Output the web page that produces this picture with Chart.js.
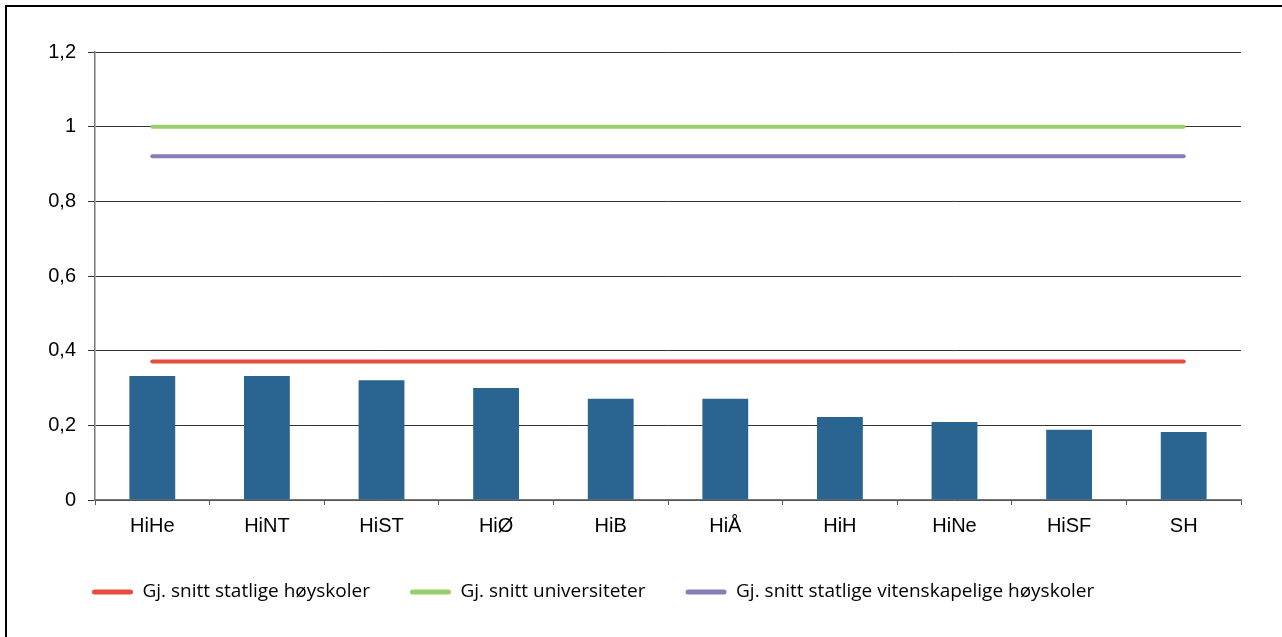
<!DOCTYPE html>
<html>
<head>
<meta charset="utf-8">
<script src="https://cdn.jsdelivr.net/npm/chart.js@4"></script>
<style>
  html, body { margin: 0; padding: 0; background: #fff; overflow: hidden; }
  #wrap { position: relative; width: 1282px; height: 637px; }
  #frame { position: absolute; left: 5px; top: 5px; width: 1400px; height: 800px;
           border-left: 2px solid #000; border-top: 2px solid #000; pointer-events: none; }
  canvas { position: absolute; left: 0; top: 0; }
</style>
</head>
<body>
<div id="wrap">
  <canvas id="c" width="1282" height="637"></canvas>
  <div id="frame"></div>
</div>
<script>
// ---- data ----
const categories = ['HiHe', 'HiNT', 'HiST', 'HiØ', 'HiB', 'HiÅ', 'HiH', 'HiNe', 'HiSF', 'SH'];
const barValues = [0.332, 0.332, 0.321, 0.300, 0.271, 0.271, 0.222, 0.209, 0.188, 0.182];
const avgStatligeHoyskoler = [0.371, 0.371, 0.371, 0.371, 0.371, 0.371, 0.371, 0.371, 0.371, 0.371];
const avgUniversiteter = [1.0, 1.0, 1.0, 1.0, 1.0, 1.0, 1.0, 1.0, 1.0, 1.0];
const avgVitenskapelige = [0.921, 0.921, 0.921, 0.921, 0.921, 0.921, 0.921, 0.921, 0.921, 0.921];
const seriesNames = ['Gj. snitt statlige høyskoler', 'Gj. snitt universiteter', 'Gj. snitt statlige vitenskapelige høyskoler'];
const yTickLabels = ['0', '0,2', '0,4', '0,6', '0,8', '1', '1,2'];

const axisFont = { family: "'Liberation Sans', Arial, sans-serif", size: 20 };

function lineDs(label, data, color) {
  return {
    type: 'line', label, data, order: 0,
    borderColor: color, backgroundColor: color, borderWidth: 4,
    borderCapStyle: 'round', pointRadius: 0, pointHoverRadius: 0, tension: 0, fill: false
  };
}

// shift the legend so it starts under the y axis, as in the original
const legendShift = {
  id: 'legendShift',
  afterLayout(chart) {
    if (chart.legend) { chart.legend.left = 52; }
  }
};

new Chart(document.getElementById('c'), {
  type: 'bar',
  data: {
    labels: categories,
    datasets: [
      { label: 'bars', data: barValues, backgroundColor: '#2A6491', order: 1,
        barPercentage: 0.8, categoryPercentage: 0.5 },
      lineDs(seriesNames[0], avgStatligeHoyskoler, '#E84C3D'),
      lineDs(seriesNames[1], avgUniversiteter, '#9ACD6E'),
      lineDs(seriesNames[2], avgVitenskapelige, '#8B7BB8')
    ]
  },
  plugins: [legendShift],
  options: {
    responsive: false,
    animation: false,
    layout: { padding: { left: 0, right: 41, top: 52, bottom: 25.5 } },
    scales: {
      x: {
        offset: true,
        grid: { display: true, drawOnChartArea: false, drawTicks: true, tickLength: 5, color: '#555', offset: true },
        border: { display: true, color: '#777', width: 1.5 },
        ticks: { font: axisFont, color: '#000', padding: 9, maxRotation: 0 },
        afterFit: s => { s.height = 42.5; }
      },
      y: {
        min: 0, max: 1.2,
        grid: { color: '#333', lineWidth: 1, drawTicks: true, tickLength: 7 },
        border: { display: true, color: '#777', width: 1.5 },
        ticks: { stepSize: 0.2, font: axisFont, color: '#000', padding: 12,
                 callback: (v, i) => yTickLabels[i] },
        afterFit: s => { s.width = 95; }
      }
    },
    plugins: {
      tooltip: { enabled: false },
      legend: {
        position: 'bottom',
        align: 'start',
        labels: {
          font: { family: "'Open Sans', 'Noto Sans', sans-serif", size: 19 },
          color: '#000',
          boxWidth: 41,
          boxHeight: 5,
          useBorderRadius: true,
          borderRadius: 2.5,
          padding: 40,
          filter: item => item.datasetIndex !== 0,
          generateLabels: chart => Chart.defaults.plugins.legend.labels.generateLabels(chart)
            .map(l => Object.assign(l, { lineWidth: 0 }))
        }
      }
    }
  }
});
</script>
</body>
</html>
